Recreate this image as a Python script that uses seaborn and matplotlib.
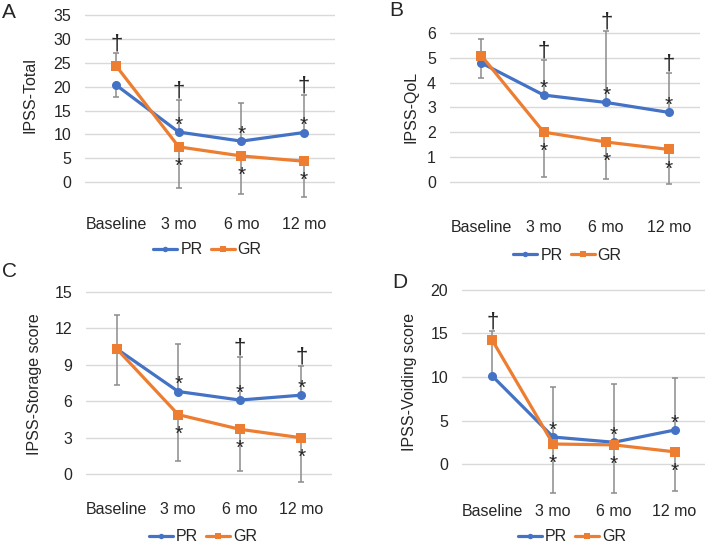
import matplotlib
matplotlib.use("Agg")
import matplotlib.pyplot as plt
import seaborn as sns
import pandas as pd
import numpy as np

# ---------------- data ----------------
categories = ["Baseline", "3 mo", "6 mo", "12 mo"]
groups = ["PR", "GR"]

# Panel A: IPSS-Total
a_pr = [20.3, 10.5, 8.6, 10.4]
a_gr = [24.3, 7.4, 5.5, 4.4]
a_pr_up = [0, 6.7, 7.9, 7.9]
a_pr_dn = [2.4, 0, 0, 0]
a_gr_up = [2.7, 0, 0, 0]
a_gr_dn = [0, 8.7, 7.9, 7.4]
a_dagger = [1, 1, 0, 1]
a_ticks = [0, 5, 10, 15, 20, 25, 30, 35]

# Panel B: IPSS-QoL
b_pr = [4.8, 3.5, 3.2, 2.8]
b_gr = [5.1, 2.0, 1.6, 1.3]
b_pr_up = [0, 1.4, 2.9, 1.6]
b_pr_dn = [0.6, 0, 0, 0]
b_gr_up = [0.65, 0, 0, 0]
b_gr_dn = [0, 1.8, 1.5, 1.4]
b_dagger = [0, 1, 1, 1]
b_ticks = [0, 1, 2, 3, 4, 5, 6]

# Panel C: IPSS-Storage score
c_pr = [10.3, 6.8, 6.1, 6.5]
c_gr = [10.3, 4.9, 3.7, 3.0]
c_pr_up = [0, 3.9, 3.5, 2.4]
c_pr_dn = [3.0, 0, 0, 0]
c_gr_up = [2.8, 0, 0, 0]
c_gr_dn = [0, 3.8, 3.4, 3.6]
c_dagger = [0, 0, 1, 1]
c_ticks = [0, 3, 6, 9, 12, 15]

# Panel D: IPSS-Voiding score
d_pr = [10.1, 3.1, 2.5, 3.9]
d_gr = [14.2, 2.3, 2.2, 1.4]
d_pr_up = [0, 5.8, 6.7, 6.0]
d_pr_dn = [0, 0, 0, 0]
d_gr_up = [1.1, 0, 0, 0]
d_gr_dn = [4.1, 5.6, 5.5, 4.5]
d_dagger = [1, 0, 0, 0]
d_ticks = [0, 5, 10, 15, 20]

star_pr = [0, 1, 1, 1]
star_gr = [0, 1, 1, 1]

# ---------------- style ----------------
sns.set_theme(style="white")
plt.rcParams["font.family"] = ["Liberation Sans", "DejaVu Sans"]
TXT = "#262626"
BLUE = "#4472C4"
ORANGE = "#ED7D31"
ERR = "#8C8C8C"
FS = 11.5

W, H = 709, 545
fig = plt.figure(figsize=(W / 100, H / 100), dpi=100)


def px_axes(left, right, top, bottom):
    return fig.add_axes([left / W, 1 - bottom / H, (right - left) / W, (bottom - top) / H])


panels = [
    dict(letter="A", lpos=(2, 13), box=(85, 335, 12, 210), ylim=(-5.8, 35.6), label="IPSS-Total",
         lab=(-0.188, 0.583), leg=(0.49, -0.202),
         pr=a_pr, gr=a_gr, pu=a_pr_up, pd_=a_pr_dn, gu=a_gr_up, gd=a_gr_dn, dag=a_dagger, ticks=a_ticks),
    dict(letter="B", lpos=(389, 11), box=(450, 700, 12, 213), ylim=(-1.27, 6.86), label="IPSS-QoL",
         lab=(-0.128, 0.53), leg=(0.47, -0.209),
         pr=b_pr, gr=b_gr, pu=b_pr_up, pd_=b_pr_dn, gu=b_gr_up, gd=b_gr_dn, dag=b_dagger, ticks=b_ticks),
    dict(letter="C", lpos=(2, 271), box=(86, 332, 285, 495), ylim=(-1.7, 15.55), label="IPSS-Storage score",
         lab=(-0.179, 0.53), leg=(0.476, -0.199),
         pr=c_pr, gr=c_gr, pu=c_pr_up, pd_=c_pr_dn, gu=c_gr_up, gd=c_gr_dn, dag=c_dagger, ticks=c_ticks),
    dict(letter="D", lpos=(392, 283), box=(462, 705, 285, 497), ylim=(-3.79, 20.57), label="IPSS-Voiding score",
         lab=(-0.185, 0.545), leg=(0.453, -0.187),
         pr=d_pr, gr=d_gr, pu=d_pr_up, pd_=d_pr_dn, gu=d_gr_up, gd=d_gr_dn, dag=d_dagger, ticks=d_ticks),
]

for p in panels:
    ax = px_axes(*p["box"])
    x = np.arange(len(categories))
    df = pd.DataFrame({
        "x": np.concatenate([x, x]),
        "value": p["pr"] + p["gr"],
        "group": ["PR"] * len(x) + ["GR"] * len(x),
    })
    sns.lineplot(data=df, x="x", y="value", hue="group", style="group",
                 hue_order=groups, style_order=groups,
                 palette={"PR": BLUE, "GR": ORANGE},
                 markers={"PR": "o", "GR": "s"}, dashes=False,
                 linewidth=2.3, markersize=6.5, markeredgewidth=0, ax=ax, zorder=3)

    pr = np.array(p["pr"]); gr = np.array(p["gr"])
    for vals, up, dn in [(pr, p["pu"], p["pd_"]), (gr, p["gu"], p["gd"])]:
        ax.errorbar(x, vals, yerr=[dn, up], fmt="none", ecolor=ERR, elinewidth=1.1,
                    capsize=2.5, capthick=1.1, zorder=2)

    # significance markers
    for i in range(len(x)):
        if star_pr[i]:
            ax.annotate("*", xy=(x[i], pr[i]), xytext=(0, 5), textcoords="offset points",
                        ha="center", va="center", fontsize=15, color=TXT, zorder=5)
        if star_gr[i]:
            ax.annotate("*", xy=(x[i], gr[i]), xytext=(0, -14), textcoords="offset points",
                        ha="center", va="center", fontsize=15, color=TXT, zorder=5)
        if p["dag"][i]:
            top = max(pr[i] + p["pu"][i], gr[i] + p["gu"][i])
            ax.annotate("\u2020", xy=(x[i], top), xytext=(0, -1), textcoords="offset points",
                        ha="center", va="bottom", fontsize=16, color=TXT, zorder=5)

    ax.set_xlim(-0.5, len(categories) - 0.5)
    ax.set_ylim(*p["ylim"])
    ax.set_xticks(x)
    ax.set_xticklabels(categories)
    ax.set_yticks(p["ticks"])
    ax.set_yticklabels([str(t) for t in p["ticks"]])
    ax.tick_params(axis="both", length=0, labelsize=FS, colors=TXT)
    ax.tick_params(axis="x", pad=5)
    ax.tick_params(axis="y", pad=10)
    ax.set_xlabel("")
    ax.set_ylabel(p["label"], fontsize=FS, color=TXT)
    ax.yaxis.set_label_coords(*p["lab"])
    ax.yaxis.grid(True, color="#D9D9D9", linewidth=1)
    ax.xaxis.grid(False)
    ax.set_axisbelow(True)
    for s in ax.spines.values():
        s.set_visible(False)

    sns.move_legend(ax, "center", bbox_to_anchor=p["leg"], ncol=2, title=None, frameon=False,
                    fontsize=FS, handlelength=1.5, handletextpad=0.2, columnspacing=0.5,
                    markerscale=0.6, labelcolor=TXT)

    fig.text(p["lpos"][0] / W, 1 - p["lpos"][1] / H, p["letter"], ha="left", va="center",
             fontsize=15, color=TXT)

fig.savefig("out.png", dpi=100)
